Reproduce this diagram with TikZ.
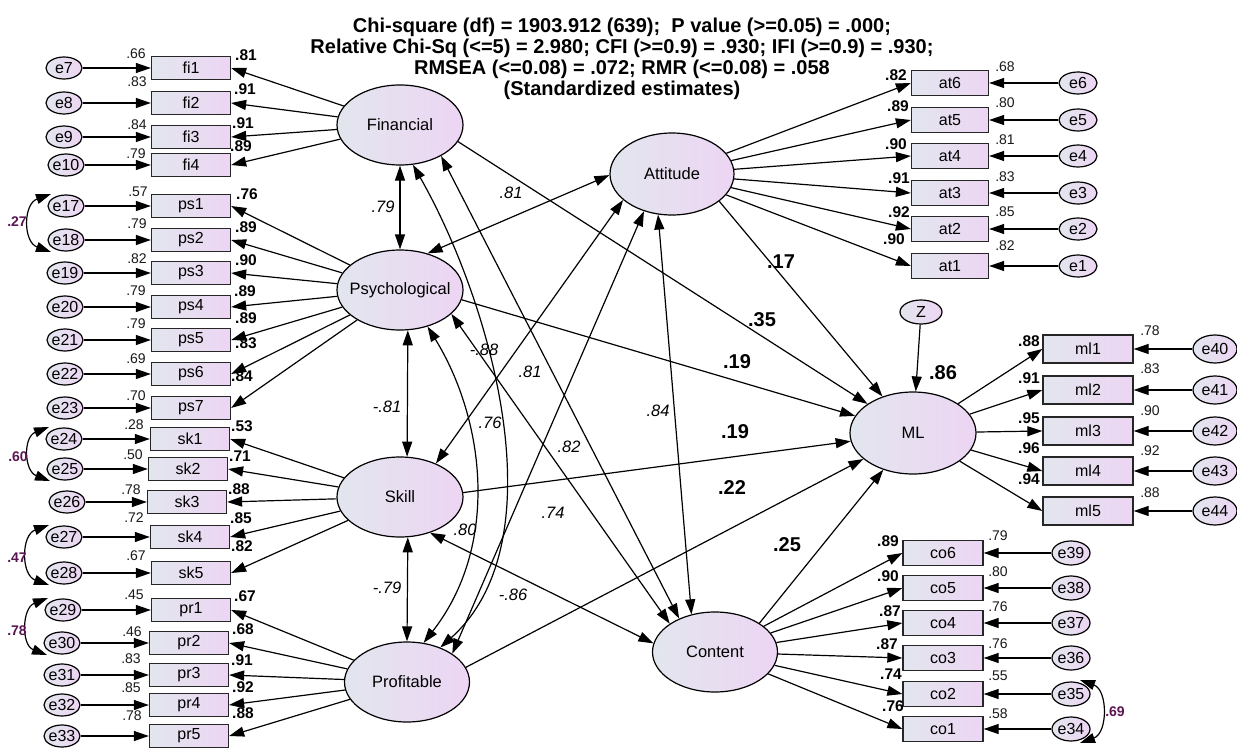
\documentclass[tikz,border=0pt]{standalone}
\usepackage{fontspec}
\setmainfont{Liberation Sans}
\usetikzlibrary{shapes.geometric,arrows.meta,calc}
\definecolor{fillL}{RGB}{226,230,238}
\definecolor{fillR}{RGB}{237,213,243}
\definecolor{covc}{RGB}{90,22,82}
\newcommand{\zw}[1]{\makebox[0pt]{#1}}
\begin{document}
\begin{tikzpicture}[x=1pt,y=-1pt,>={Triangle[length=15pt,width=10pt]},
  obs/.style={draw=black!85, line width=1.3pt, left color=fillL, right color=fillR, minimum width=79pt, minimum height=23pt, inner sep=0pt, font=\fontsize{16}{16}\selectfont},
  lat/.style={ellipse, draw=black, line width=1.2pt, left color=fillL, right color=fillR, minimum width=126pt, minimum height=80pt, inner sep=0pt, font=\fontsize{16.5}{17}\selectfont},
  err/.style={ellipse, draw=black, line width=1.2pt, left color=fillL, right color=fillR, minimum width=36pt, minimum height=22pt, inner sep=0pt, font=\fontsize{16}{16}\selectfont},
  arr/.style={->, line width=1.2pt},
  dbl/.style={<->, line width=1.2pt},
  varl/.style={font=\fontsize{14}{14}\selectfont, text=black!90, inner sep=0pt},
  loadl/.style={font=\fontsize{15.5}{15.5}\selectfont\bfseries, inner sep=0pt},
  strl/.style={font=\fontsize{20}{20}\selectfont\bfseries, inner sep=0pt},
  corl/.style={font=\fontsize{16.5}{16.5}\selectfont\itshape, inner sep=0pt},
  covl/.style={font=\fontsize{14}{14}\selectfont\bfseries, text=covc, inner sep=0pt}]
\fill[white] (0,0) rectangle (1237,749);
\useasboundingbox (0,0) rectangle (1237,749);

% title
\node[font=\fontsize{20}{21}\selectfont\bfseries, align=center, anchor=north, inner sep=0pt] (title) at (622,18)
 {Chi-square (df) = 1903.912 (639);\ \ P value (>=0.05) = .000;\\
  Relative Chi-Sq (<=5) = 2.980; CFI (>=0.9) = .930; IFI (>=0.9) = .930;\\
  RMSEA (<=0.08) = .072; RMR (<=0.08) = .058\\
  (Standardized estimates)};

% latent variables
\node[lat] (Fin) at (400,125) {\zw{Financial}};
\node[lat] (Psy) at (400,290) {\zw{Psychological}};
\node[lat] (Ski) at (400,497) {\zw{Skill}};
\node[lat, minimum width=125pt] (Pro) at (407,682) {\zw{Profitable}};
\node[lat, minimum width=124pt, minimum height=82pt] (Att) at (672,174) {\zw{Attitude}};
\node[lat, minimum width=125pt] (Con) at (715,652) {\zw{Content}};
\node[lat, minimum height=82pt] (ML) at (913,433) {\zw{ML}};
\node[err, minimum width=42pt, minimum height=24pt] (Z) at (921,312) {\zw{Z}};

% left indicators
\foreach \qb/\qbx/\qby/\qe/\qex/\qv/\qvx/\qvy/\ql/\qlx/\qly/\qlat in {
 fi1/191/68/e7/64/.66/136/54/.81/246/55/Fin,
 fi2/191/103/e8/64/.83/137/82/.91/245/89/Fin,
 fi3/191/137/e9/64/.84/137/125/.91/243/123/Fin,
 fi4/191/165/e10/66/.79/136/154/.89/241/146/Fin,
 ps1/191/206/e17/66/.57/138/192/.76/247/194/Psy,
 ps2/191/240/e18/66/.79/137/224/.89/246/227/Psy,
 ps3/191/273/e19/65/.82/137/259/.90/246/260/Psy,
 ps4/191/307/e20/65/.79/136/291/.89/245/291/Psy,
 ps5/191/340/e21/65/.79/136/324/.89/246/318/Psy,
 ps6/191/374/e22/65/.69/136/359/.83/246/343/Psy,
 ps7/191/408/e23/65/.70/136/396/.84/242/376/Psy,
 sk1/190/439/e24/64/.28/134/425/.53/242/426/Ski,
 sk2/188/469/e25/65/.50/133/455/.71/240/456/Ski,
 sk3/187/502/e26/67/.78/131/490/.88/239/489/Ski,
 sk4/190/537/e27/64/.72/134/518/.85/241/518/Ski,
 sk5/191/573/e28/64/.67/136/556/.82/242/546/Ski,
 pr1/191/610/e29/63/.45/134/595/.67/245/596/Pro,
 pr2/189/643/e30/62/.46/132/632/.68/243/629/Pro,
 pr3/189/675/e31/62/.83/131/659/.91/242/660/Pro,
 pr4/189/705/e32/62/.85/131/688/.92/243/687/Pro,
 pr5/189/736/e33/62/.78/132/716/.88/243/713/Pro}
{
 \node[obs] (\qb) at (\qbx,\qby) {\qb};
 \node[err] (\qe) at (\qex,\qby) {\zw{\qe}};
 \draw[arr] (\qe) -- (\qb);
 \draw[arr] (\qlat) -- (\qb.east);
 \node[varl] (v\qb) at (\qvx,\qvy) {\qv};
 \node[loadl] (l\qb) at (\qlx,\qly) {\ql};
}

% attitude indicators
\foreach \qb/\qby/\qe/\qv/\qvx/\qvy/\ql/\qlx/\qly in {
 at6/83/e6/.68/1005/67/.82/896/75,
 at5/120/e5/.80/1005/103/.89/898/106,
 at4/156/e4/.81/1005/140/.90/896/144,
 at3/193/e3/.83/1005/177/.91/899/178,
 at2/229/e2/.85/1005/212/.92/899/212,
 at1/266/e1/.82/1005/246/.90/894/239}
{
 \node[obs, minimum width=77pt, minimum height=25pt] (\qb) at (950,\qby) {\qb};
 \node[err, minimum width=38pt] (\qe) at (1078,\qby) {\zw{\qe}};
 \draw[arr] (\qe) -- (\qb);
 \draw[arr] (Att) -- (\qb.west);
 \node[varl] (v\qb) at (\qvx,\qvy) {\qv};
 \node[loadl] (l\qb) at (\qlx,\qly) {\ql};
}

% ML indicators
\foreach \qb/\qby/\qe/\qv/\qvy/\ql/\qly in {
 ml1/349/e40/.78/331/.88/341,
 ml2/390/e41/.83/369/.91/378,
 ml3/431/e42/.90/411/.95/418,
 ml4/471/e43/.92/451/.96/448,
 ml5/511/e44/.88/493/.94/479}
{
 \node[obs, minimum width=90pt, minimum height=28pt] (\qb) at (1088,\qby) {\qb};
 \node[err, minimum width=44pt, minimum height=28pt] (\qe) at (1215,\qby) {\zw{\qe}};
 \draw[arr] (\qe) -- (\qb);
 \draw[arr] (ML) -- (\qb.west);
 \node[varl] (v\qb) at (1150,\qvy) {\qv};
 \node[loadl] (l\qb) at (1029,\qly) {\ql};
}

% Content indicators
\foreach \qb/\qby/\qe/\qv/\qvy/\ql/\qlx/\qly in {
 co6/553/e39/.79/536/.89/888/541,
 co5/588/e38/.80/572/.90/888/576,
 co4/623/e37/.76/607/.87/890/611,
 co3/658/e36/.76/644/.87/887/644,
 co2/694/e35/.55/676/.74/891/674,
 co1/729/e34/.58/714/.76/893/706}
{
 \node[obs, minimum width=80pt, minimum height=25pt] (\qb) at (943,\qby) {\qb};
 \node[err, minimum width=38pt, minimum height=24pt] (\qe) at (1071,\qby) {\zw{\qe}};
 \draw[arr] (\qe) -- (\qb);
 \draw[arr] (Con) -- (\qb.west);
 \node[varl] (v\qb) at (998,\qvy) {\qv};
 \node[loadl] (l\qb) at (\qlx,\qly) {\ql};
}

% error covariances
\draw[dbl] ($(e17)+(-15,-12)$) .. controls +(-28,10) and +(-28,-10) .. ($(e18)+(-15,12)$);
\draw[dbl] ($(e24)+(-15,-12)$) .. controls +(-26,10) and +(-26,-10) .. ($(e25)+(-15,12)$);
\draw[dbl] ($(e27)+(-15,-12)$) .. controls +(-28,10) and +(-28,-10) .. ($(e28)+(-15,12)$);
\draw[dbl] ($(e29)+(-15,-12)$) .. controls +(-26,10) and +(-26,-10) .. ($(e30)+(-15,12)$);
\draw[dbl] ($(e35)+(9,-14)$) .. controls +(28,10) and +(28,-10) .. ($(e34)+(9,14)$);
\node[covl] (c1) at (17,222) {.27};
\node[covl] (c2) at (18,457) {.60};
\node[covl] (c3) at (17,558) {.47};
\node[covl] (c4) at (17,631) {.78};
\node[covl] (c5) at (1115,712) {.69};

% correlations among factors
\draw[dbl] (Fin.270) -- (Psy.90);
\draw[dbl] (Psy.281) -- (Ski.80);
\draw[dbl] (Ski.281) -- (Pro.90);
\draw[dbl] (Psy.53) -- (Att.181);
\draw[dbl] (Ski.43) -- (Att.208);
\draw[dbl] (Pro.32) -- (Att.233);
\draw[dbl] (Con.122) -- (Att.251);
\draw[dbl] (Fin.323) -- (Con.137);
\draw[dbl] (Psy.335) -- (Con.148);
\draw[dbl] (Ski.310) -- (Con.172);
\draw[dbl] (Fin.288) .. controls (490,300) and (560,540) .. (Pro.46);
\draw[dbl] (Psy.307) .. controls (485,420) and (500,545) .. (Pro.67);

\node[corl] (r1) at (383,207) {.79};
\node[corl] (r2) at (511,193) {.81};
\node[corl] (r3) at (484,350) {-.88};
\node[corl] (r4) at (530,372) {.81};
\node[corl] (r5) at (490,423) {.76};
\node[corl] (r6) at (569,447) {.82};
\node[corl] (r7) at (553,513) {.74};
\node[corl] (r8) at (465,530) {.80};
\node[corl] (r9) at (513,595) {-.86};
\node[corl] (r10) at (387,407) {-.81};
\node[corl] (r11) at (387,588) {-.79};
\node[corl] (r12) at (658,411) {.84};

% structural paths
\draw[arr] (Fin.344) -- (ML);
\draw[arr] (Att.330) -- (ML);
\draw[arr] (Psy.351) -- (ML);
\draw[arr] (Ski.4) -- (ML);
\draw[arr] (Pro.14) -- (ML);
\draw[arr] (Con.33) -- (ML);
\draw[arr] (Z) -- (ML);

\node[strl] (s1) at (762,320) {.35};
\node[strl] (s2) at (781,262) {.17};
\node[strl] (s3) at (737,362) {.19};
\node[strl] (s4) at (735,432) {.19};
\node[strl] (s5) at (732,488) {.22};
\node[strl] (s6) at (787,545) {.25};
\node[strl] (s7) at (943,373) {.86};
\end{tikzpicture}
\end{document}
